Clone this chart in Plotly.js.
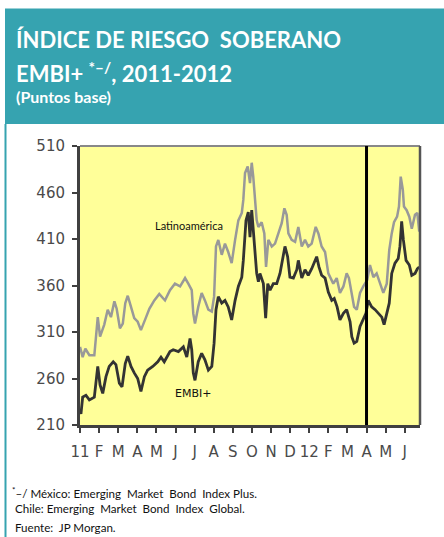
<!DOCTYPE html>
<html><head><meta charset="utf-8">
<script src="https://cdn.plot.ly/plotly-3.0.1.min.js"></script>
<style>html,body{margin:0;padding:0;background:#fff;}#chart{width:444px;height:537px;}</style>
</head><body><div id="chart"></div>
<script>
// Months since January 2011 (0 = Jan 2011, 12 = Jan 2012)
const monthTicks = [0,1,2,3,4,5,6,7,8,9,10,11,12,13,14,15,16,17];
const monthLabels = ["11","F","M","A","M","J","J","A","S","O","N","D","12","F","M","A","M","J"];

const embiMonths = [0.00,0.05,0.14,0.31,0.49,0.75,0.93,1.05,1.19,1.36,1.53,1.74,1.88,2.06,2.20,2.37,2.50,2.67,2.84,3.02,3.19,3.37,3.54,3.81,4.07,4.24,4.41,4.71,4.88,5.15,5.41,5.59,5.76,5.85,5.93,6.02,6.19,6.37,6.54,6.72,6.90,7.02,7.12,7.24,7.42,7.59,7.76,7.94,8.12,8.29,8.47,8.55,8.69,8.81,8.90,8.99,9.07,9.16,9.25,9.34,9.42,9.60,9.72,9.83,9.95,10.12,10.30,10.47,10.64,10.73,10.87,10.99,11.17,11.35,11.43,11.61,11.78,11.95,12.13,12.30,12.39,12.51,12.65,12.83,13.00,13.18,13.31,13.46,13.61,13.79,13.96,14.14,14.23,14.35,14.49,14.66,14.83,14.97,15.09,15.27,15.45,15.62,15.80,15.92,16.06,16.19,16.32,16.49,16.66,16.75,16.84,16.93,17.07,17.24,17.37,17.54,17.66,17.76];
const embiValues = [226,222,240,242,237,240,273,253,244,262,273,278,275,255,251,276,284,273,266,260,246,262,269,273,278,283,278,289,291,289,294,283,303,291,266,258,278,287,280,269,273,298,334,348,341,344,337,323,344,359,369,387,430,439,412,441,420,398,373,364,373,362,325,362,355,362,362,373,395,402,391,369,368,377,387,368,377,371,378,387,391,380,371,368,353,344,346,337,323,330,334,321,305,298,300,316,323,330,344,337,334,330,326,318,330,341,373,384,389,402,429,409,387,382,371,373,378,380];

const latamMonths = [0.00,0.14,0.28,0.49,0.75,0.93,1.05,1.27,1.45,1.62,1.80,1.92,2.09,2.24,2.37,2.50,2.67,2.84,3.02,3.19,3.46,3.63,3.89,4.15,4.36,4.45,4.71,4.97,5.24,5.50,5.67,5.85,5.93,6.02,6.19,6.37,6.54,6.72,6.90,7.02,7.12,7.24,7.42,7.59,7.76,7.94,8.12,8.29,8.47,8.55,8.64,8.78,8.90,8.99,9.07,9.16,9.25,9.34,9.51,9.65,9.74,9.86,10.04,10.21,10.38,10.56,10.70,10.82,10.91,11.08,11.26,11.43,11.61,11.78,11.95,12.13,12.34,12.48,12.65,12.83,13.00,13.18,13.26,13.44,13.61,13.79,13.96,14.08,14.23,14.35,14.49,14.66,14.83,15.04,15.18,15.36,15.53,15.71,15.88,16.06,16.19,16.32,16.44,16.60,16.70,16.79,16.90,16.96,17.10,17.24,17.37,17.54,17.66,17.76];
const latamValues = [294,283,292,285,285,326,305,318,334,326,343,335,314,319,341,349,337,325,321,312,326,335,344,351,346,344,355,362,359,368,362,355,330,319,337,352,344,334,332,348,402,409,393,405,396,384,409,430,438,452,481,488,470,492,477,452,430,423,428,416,380,409,402,405,416,427,443,436,416,409,407,423,402,409,402,405,423,416,402,396,373,364,362,368,352,359,373,368,352,337,334,352,359,366,382,369,373,362,352,362,398,416,428,434,445,477,463,445,441,434,421,436,438,418];

const markerMonth = 15; // abril 2012
const yTicks = [210,260,310,360,410,460,510];

// plot area in pixels: x 80..420, y 146..425
const PL = 80, PR = 420, PT = 146, PB = 425;
const px = p => (p - PL) / (PR - PL);
const py = p => (PB - p) / (PB - PT);

const teal = '#36A3B0';
const tickFont = {family: 'DejaVu Sans', size: 15, color: '#4a4a4a'};

const traces = [
  {x: latamMonths, y: latamValues, type: 'scatter', mode: 'lines', name: 'Latinoamérica',
   line: {color: '#999999', width: 2.5}, hoverinfo: 'skip'},
  {x: embiMonths, y: embiValues, type: 'scatter', mode: 'lines', name: 'EMBI+',
   line: {color: '#333333', width: 2.8}, hoverinfo: 'skip'}
];

const layout = {
  width: 444, height: 537,
  margin: {l: PL, r: 444 - PR, t: PT, b: 537 - PB, pad: 0},
  paper_bgcolor: '#ffffff',
  plot_bgcolor: '#FFFF99',
  showlegend: false,
  xaxis: {
    range: [0, 17.8], tickmode: 'array', tickvals: monthTicks, ticktext: monthLabels,
    showgrid: false, zeroline: false, showline: true, linecolor: '#404040', linewidth: 3,
    ticks: 'outside', ticklen: 5, tickwidth: 2, tickcolor: '#404040', tickfont: tickFont,
    ticklabelstandoff: 6, fixedrange: true
  },
  yaxis: {
    range: [210, 510], tickmode: 'array', tickvals: yTicks,
    showgrid: false, zeroline: false, showline: true, linecolor: '#404040', linewidth: 3,
    ticks: 'outside', ticklen: 5, tickwidth: 2, tickcolor: '#404040', tickfont: tickFont,
    ticklabelstandoff: 4, fixedrange: true
  },
  shapes: [
    {type: 'rect', xref: 'paper', yref: 'paper', x0: px(5), x1: px(446), y0: py(124), y1: py(8.5),
     fillcolor: teal, line: {width: 0}, layer: 'below'},
    {type: 'line', xref: 'paper', yref: 'paper', x0: px(5.5), x1: px(5.5), y0: py(124), y1: py(540),
     line: {color: teal, width: 2}},
    {type: 'line', xref: 'paper', yref: 'paper', x0: 0, x1: 1, y0: 1, y1: 1,
     line: {color: '#888888', width: 2}},
    {type: 'line', xref: 'paper', yref: 'paper', x0: 1, x1: 1, y0: 0, y1: 1,
     line: {color: '#555555', width: 2.5}},
    {type: 'line', xref: 'x', yref: 'paper', x0: markerMonth, x1: markerMonth, y0: 0, y1: 1,
     line: {color: '#000000', width: 3}}
  ],
  annotations: [
    {xref: 'paper', yref: 'paper', x: px(14), y: py(40), xanchor: 'left', yanchor: 'middle', showarrow: false,
     text: '<b>ÍNDICE DE RIESGO  SOBERANO</b>', font: {family: 'Lato', size: 22, color: '#ffffff'}},
    {xref: 'paper', yref: 'paper', x: px(14), y: py(72.5), xanchor: 'left', yanchor: 'middle', showarrow: false,
     text: '<b>EMBI+ <sup>*–/</sup>, 2011-2012</b>', font: {family: 'Lato', size: 22, color: '#ffffff'}},
    {xref: 'paper', yref: 'paper', x: px(14), y: py(96), xanchor: 'left', yanchor: 'middle', showarrow: false,
     text: '<b>(Puntos base)</b>', font: {family: 'Lato', size: 16, color: '#ffffff'}},
    {xref: 'x', yref: 'y', x: 5.71, y: 425, xanchor: 'center', yanchor: 'middle', showarrow: false,
     text: 'Latinoamérica', font: {family: 'Lato', size: 11, color: '#111111'}},
    {xref: 'x', yref: 'y', x: 5.89, y: 244, xanchor: 'center', yanchor: 'middle', showarrow: false,
     text: 'EMBI+', font: {family: 'DejaVu Sans', size: 11, color: '#111111'}},
    {xref: 'paper', yref: 'paper', x: px(10), y: py(492.7), xanchor: 'left', yanchor: 'middle', showarrow: false,
     text: '<sup>*</sup>–/ México: Emerging  Market  Bond  Index Plus.', font: {family: 'Lato', size: 11.6, color: '#111111'}},
    {xref: 'paper', yref: 'paper', x: px(13), y: py(508.7), xanchor: 'left', yanchor: 'middle', showarrow: false,
     text: 'Chile: Emerging  Market  Bond  Index  Global.', font: {family: 'Lato', size: 11.6, color: '#111111'}},
    {xref: 'paper', yref: 'paper', x: px(13), y: py(527), xanchor: 'left', yanchor: 'middle', showarrow: false,
     text: 'Fuente:  JP Morgan.', font: {family: 'Lato', size: 11.6, color: '#111111'}}
  ]
};

Plotly.newPlot('chart', traces, layout, {staticPlot: true, displayModeBar: false});
</script>
</body></html>
